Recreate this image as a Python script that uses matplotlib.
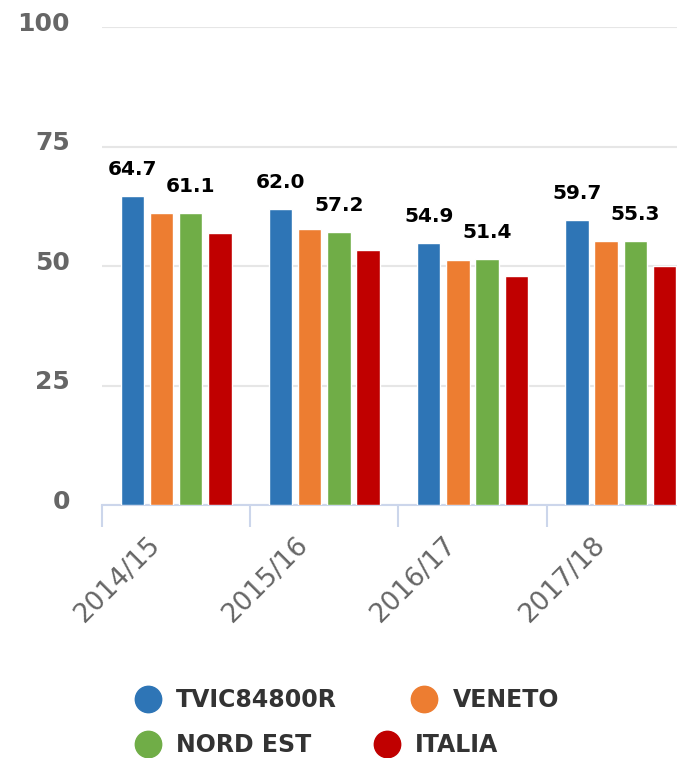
import numpy as np
import matplotlib.pyplot as plt
import matplotlib.transforms as mtransforms
from matplotlib.lines import Line2D

years = ["2014/15", "2015/16", "2016/17", "2017/18"]
series_names = ["TVIC84800R", "VENETO", "NORD EST", "ITALIA"]
tvic = [64.7, 62.0, 54.9, 59.7]
veneto = [61.0, 57.8, 51.3, 55.3]
nord_est = [61.1, 57.2, 51.4, 55.3]
italia = [57.0, 53.4, 48.0, 50.1]
colors = ["#2e75b6", "#ed7d31", "#70ad47", "#c00000"]
labelled = [True, False, True, False]

series = [tvic, veneto, nord_est, italia]

fig = plt.figure(figsize=(6.77, 7.58), dpi=100)
ax = fig.add_axes([102 / 677, 253 / 758, 584 / 677, 478 / 758])

x = np.arange(len(years))
pitch = 0.197
width = 0.158
for i, vals in enumerate(series):
    pos = x + (i - 1.5) * pitch
    ax.bar(pos, vals, width, color=colors[i], edgecolor="white", linewidth=1, zorder=3)
    if labelled[i]:
        for px, v in zip(pos, vals):
            ax.annotate(f"{v:.1f}", (px, v), xytext=(0, 15), textcoords="offset points",
                        ha="center", va="baseline", fontsize=14.5, fontweight="bold",
                        color="black", zorder=4)

ax.set_xlim(-0.5, 3.44)
ax.set_ylim(0, 100)
ax.set_yticks([0, 25, 50, 75, 100])
ax.yaxis.grid(True, color="#e6e6e6", linewidth=1.5, zorder=0)
ax.tick_params(axis="y", length=0, pad=23, labelsize=18, labelcolor="#666666")
for lab in ax.get_yticklabels():
    lab.set_fontweight("bold")
    lab.set_transform(lab.get_transform() + mtransforms.ScaledTranslation(0, 4 / 72, fig.dpi_scale_trans))

for s in ["top", "right", "left"]:
    ax.spines[s].set_visible(False)
ax.spines["bottom"].set_color("#ccd6eb")
ax.spines["bottom"].set_linewidth(1.5)

ax.set_xticks(x)
ax.set_xticklabels(years, rotation=45, ha="right", va="center", rotation_mode="anchor",
                   fontsize=19, color="#666666")
ax.set_xticks(np.arange(-0.5, 3.5, 1.0), minor=True)
ax.tick_params(axis="x", which="major", length=0, pad=26)
ax.tick_params(axis="x", which="minor", length=16, width=1.5, color="#ccd6eb")
for lab in ax.get_xticklabels():
    lab.set_transform(lab.get_transform() + mtransforms.ScaledTranslation(-0.2, 0, fig.dpi_scale_trans))

handles = [Line2D([], [], marker="o", linestyle="none", markersize=19,
                  markerfacecolor=c, markeredgecolor=c) for c in colors]
kw = dict(frameon=False, ncol=2, handletextpad=0.7, handlelength=1.0,
          borderaxespad=0, borderpad=0, prop={"weight": "bold", "size": 17})
leg1 = fig.legend(handles[:2], series_names[:2], loc="center left", columnspacing=3.2,
                  bbox_to_anchor=(136 / 677, 1 - 700 / 758), labelcolor="#333333", **kw)
leg2 = fig.legend(handles[2:], series_names[2:], loc="center left", columnspacing=2.7,
                  bbox_to_anchor=(136 / 677, 1 - 745 / 758), labelcolor="#333333", **kw)

fig.savefig("out.png", dpi=100)
